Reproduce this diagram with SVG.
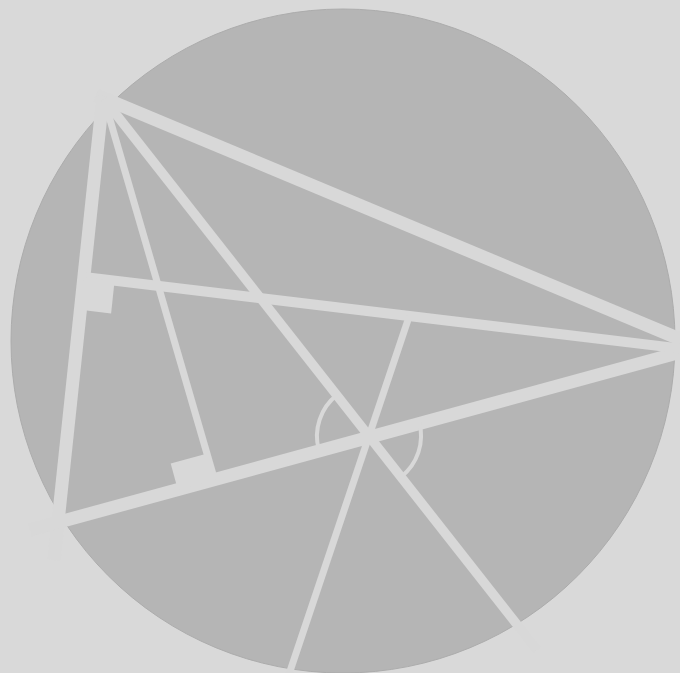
<svg xmlns="http://www.w3.org/2000/svg" width="680" height="673" viewBox="0 0 680 673">
  <style>
    .cut { stroke: #d8d8d8; fill: none; stroke-linecap: butt; }
    .blk { fill: #d8d8d8; }
  </style>
  <rect x="0" y="0" width="680" height="673" fill="#d9d9d9"/>
  <g id="disc">
    <circle cx="343" cy="341" r="332" fill="#b5b5b5" stroke="#acacac" stroke-width="1"/>
  </g>
  <g id="connectors">
    <line id="AB" class="cut" x1="96" y1="94.9" x2="700" y2="347.5" stroke-width="13"/>
    <line id="AC" class="cut" x1="103" y1="96" x2="54" y2="560" stroke-width="13"/>
    <line id="BC" class="cut" x1="30" y1="530" x2="700" y2="346.9" stroke-width="13"/>
    <line id="altB" class="cut" x1="84" y1="277" x2="700" y2="350.9" stroke-width="10"/>
    <line id="altA" class="cut" x1="104" y1="99" x2="214.5" y2="479.4" stroke-width="7"/>
    <line id="ceva" class="cut" x1="104" y1="99" x2="537" y2="650" stroke-width="9.5"/>
    <line id="cevb" class="cut" x1="409.3" y1="316" x2="283.7" y2="690" stroke-width="7"/>
    <path id="arcL" class="cut" d="M318.8,449.7 A52,52 0 0 1 337.1,394.9" stroke-width="4"/>
    <path id="arcR" class="cut" d="M419.2,422.3 A52,52 0 0 1 400.9,477.1" stroke-width="4"/>
  </g>
  <g id="markers">
    <polygon id="rightA" class="blk" points="214.5,479.4 177.8,489.4 170.7,463.4 207.4,453.4"/>
    <polygon id="rightB" class="blk" points="83.8,277 114.6,280.7 111.1,313.5 80.3,309.8"/>
  </g>
</svg>
